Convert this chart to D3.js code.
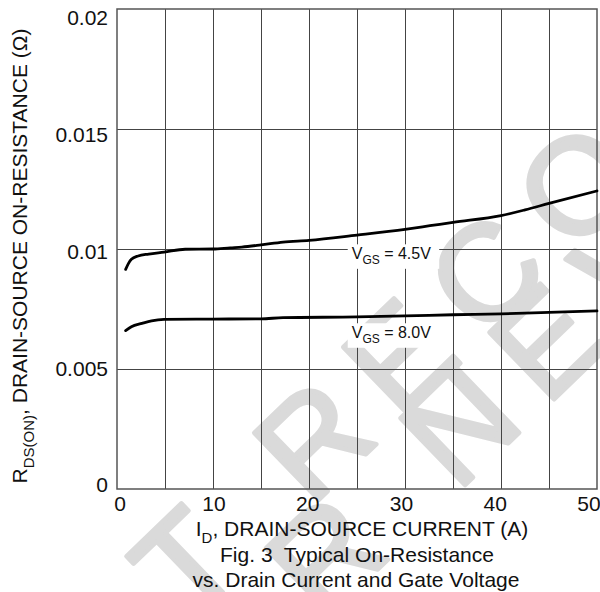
<!DOCTYPE html>
<html>
<head>
<meta charset="utf-8">
<script src="https://cdn.jsdelivr.net/npm/d3@7/dist/d3.min.js"></script>
<style>
  html, body { margin: 0; padding: 0; background: #fff; }
  svg { display: block; font-family: "Liberation Sans", Arial, Helvetica, sans-serif; }
</style>
</head>
<body>
<svg id="chart" width="600" height="592"></svg>
<script>
// ---- data ----
const currentVgs45 = [0.9, 1.2, 1.5, 2.2, 3.3, 4.9, 7.1, 10.0, 11.8, 13, 15, 17.3, 20, 25, 30, 32.6, 35, 40, 42.5, 45, 50];
const rdsVgs45     = [0.00915, 0.0094, 0.00957, 0.00971, 0.00979, 0.00987, 0.00999, 0.0100, 0.01005, 0.01008, 0.01017, 0.01029, 0.01036, 0.01058, 0.01082, 0.01097, 0.01111, 0.01139, 0.01163, 0.0119, 0.01242];
const currentVgs80 = [0.9, 1.5, 2.6, 3.6, 4.9, 10, 15, 17.3, 25, 30, 35, 40, 45, 50];
const rdsVgs80     = [0.0066, 0.00676, 0.0069, 0.00701, 0.00707, 0.00708, 0.00709, 0.00714, 0.00717, 0.00721, 0.00726, 0.0073, 0.00736, 0.00742];
const seriesNames  = ["4.5V", "8.0V"];
const labelCurrent = [24.45, 24.45];
const labelRds     = [0.00957, 0.00628];
const xTickValues  = [0, 10, 20, 30, 40, 50];
const xTickLabels  = ["0", "10", "20", "30", "40", "50"];
const yTickValues  = [0, 0.005, 0.01, 0.015, 0.02];
const yTickLabels  = ["0", "0.005", "0.01", "0.015", "0.02"];
const xGridValues  = [5, 10, 15, 20, 25, 30, 35, 40, 45];
const yGridValues  = [0.005, 0.01, 0.015];

// ---- layout ----
const svg = d3.select("#chart");
const m = { left: 117, top: 9 };
const w = 480, h = 480;
const x = d3.scaleLinear().domain([0, 50]).range([0, w]);
const y = d3.scaleLinear().domain([0, 0.02]).range([h, 0]);
// label placement scales (labels in the original sit slightly inside the grid)
const xLab = d3.scaleLinear().domain([0, 50]).range([119.6 - m.left, 588.5 - m.left]);
const yLab = d3.scaleLinear().domain([0, 0.02]).range([484.2 - m.top, 17.4 - m.top]);

// ---- watermark ----
const wm = svg.append("g").attr("transform", "rotate(-44)")
  .attr("fill", "#dadada").attr("stroke", "#dadada").attr("stroke-width", 4.5)
  .attr("stroke-linejoin", "round").attr("font-size", 135)
  .style("letter-spacing", "26px");
wm.append("text").attr("x", -553).attr("y", 581).text("NOT RECOMMENDED");
wm.append("text").attr("x", -440).attr("y", 672).text("FOR NEW DESIGN");

const g = svg.append("g").attr("transform", `translate(${m.left},${m.top})`);

// ---- grid ----
const gx = g.append("g").attr("transform", `translate(0,${h})`)
  .call(d3.axisBottom(x).tickValues(xGridValues).tickSize(-h).tickFormat(""));
const gy = g.append("g")
  .call(d3.axisLeft(y).tickValues(yGridValues).tickSize(-w).tickFormat(""));
[gx, gy].forEach(a => {
  a.select(".domain").remove();
  a.selectAll("line").attr("stroke", "#444").attr("stroke-width", 1).attr("shape-rendering", "crispEdges");
});
g.append("rect").attr("x", 0).attr("y", 0).attr("width", w).attr("height", h)
  .attr("fill", "none").attr("stroke", "#555").attr("stroke-width", 1.5);

// ---- tick labels ----
const ax = g.append("g").attr("transform", `translate(0,${h})`)
  .call(d3.axisBottom(xLab).tickValues(xTickValues).tickSize(0)
    .tickFormat((d, i) => xTickLabels[i]));
ax.select(".domain").remove();
ax.selectAll("text").attr("y", 22).attr("dy", 0).attr("font-size", 21)
  .attr("fill", "#111").attr("font-family", null);

const ay = g.append("g")
  .call(d3.axisLeft(yLab).tickValues(yTickValues).tickSize(0).tickPadding(9)
    .tickFormat((d, i) => yTickLabels[i]));
ay.select(".domain").remove();
ay.selectAll("text").attr("dy", "0.36em").attr("font-size", 21)
  .attr("fill", "#111").attr("font-family", null);

// ---- curves ----
const line = d3.line().x(d => x(d[0])).y(d => y(d[1])).curve(d3.curveMonotoneX);
const series = [d3.zip(currentVgs45, rdsVgs45), d3.zip(currentVgs80, rdsVgs80)];
g.selectAll("path.curve").data(series).join("path")
  .attr("class", "curve").attr("d", line)
  .attr("fill", "none").attr("stroke", "#000").attr("stroke-width", 2.8)
  .attr("stroke-linejoin", "round").attr("stroke-linecap", "round");

// ---- curve labels ----
seriesNames.forEach((name, i) => {
  const lg = g.append("g");
  const t = lg.append("text").attr("x", x(labelCurrent[i])).attr("y", y(labelRds[i]))
    .attr("font-size", 16).attr("fill", "#111");
  t.append("tspan").text("V");
  t.append("tspan").attr("font-size", 12).attr("dy", 4.5).text("GS");
  t.append("tspan").attr("dy", -4.5).text(" = " + name);
  const bb = t.node().getBBox();
  lg.insert("rect", "text").attr("x", bb.x - 4).attr("y", bb.y - 1)
    .attr("width", bb.width + 12).attr("height", bb.height + 3).attr("fill", "#fff");
});

// ---- axis titles ----
const xt = svg.append("text").attr("x", 362).attr("y", 535.7).attr("text-anchor", "middle")
  .attr("font-size", 21).attr("fill", "#111");
xt.append("tspan").text("I");
xt.append("tspan").attr("font-size", 15).attr("dy", 7).text("D");
xt.append("tspan").attr("dy", -7).text(", DRAIN-SOURCE CURRENT (A)");

const yt = svg.append("text").attr("transform", "translate(27,256) rotate(-90)")
  .attr("text-anchor", "middle").attr("font-size", 21).attr("fill", "#111");
yt.append("tspan").text("R");
yt.append("tspan").attr("font-size", 15).attr("dy", 7).text("DS(ON)");
yt.append("tspan").attr("dy", -7).text(", DRAIN-SOURCE ON-RESISTANCE (\u03A9)");

svg.append("text").attr("x", 357).attr("y", 561.7).attr("text-anchor", "middle")
  .attr("font-size", 21).attr("fill", "#111").style("white-space", "pre")
  .text("Fig. 3  Typical On-Resistance");
svg.append("text").attr("x", 356).attr("y", 586.7).attr("text-anchor", "middle")
  .attr("font-size", 21).attr("fill", "#111")
  .text("vs. Drain Current and Gate Voltage");
</script>
</body>
</html>
